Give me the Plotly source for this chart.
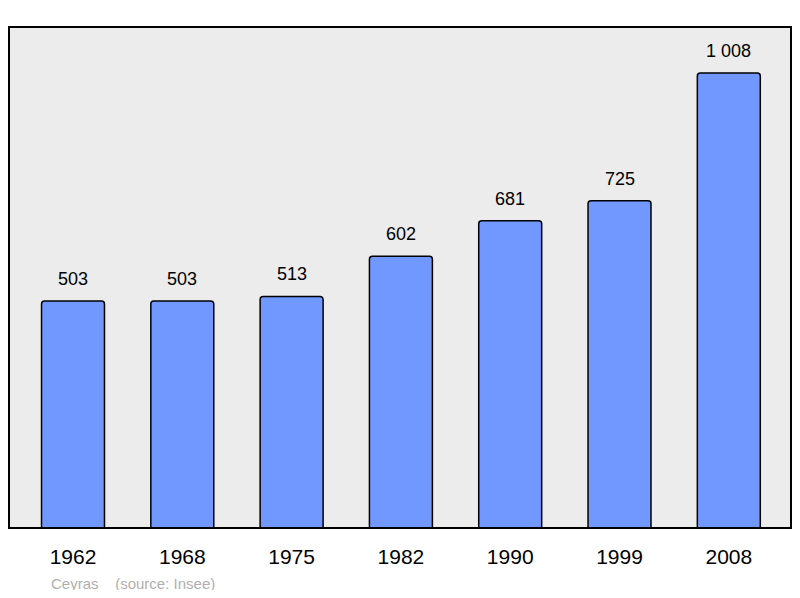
import plotly.graph_objects as go

years = ["1962", "1968", "1975", "1982", "1990", "1999", "2008"]
population = [503, 503, 513, 602, 681, 725, 1008]
labels = ["503", "503", "513", "602", "681", "725", "1 008"]
xpos = list(range(len(years)))

fig = go.Figure(go.Bar(
    x=xpos, y=population, width=0.576,
    marker=dict(color="#7098ff", line=dict(color="black", width=1.5), cornerradius=3),
))
annots = [dict(x=x, y=v, text=t, showarrow=False, yshift=22, yanchor="middle",
               font=dict(size=18, color="black"))
          for x, v, t in zip(xpos, population, labels)]
annots.append(dict(text="Ceyras    (source: Insee)", xref="paper", yref="paper",
                   x=(49-9)/782, y=-(583-528)/501, xanchor="left", yanchor="middle",
                   showarrow=False, font=dict(size=15, color="#b0b0b0")))
fig.update_layout(
    width=784, height=582,
    margin=dict(l=1, r=1, t=19, b=62),
    paper_bgcolor="white", plot_bgcolor="#ececec",
    showlegend=False,
    font=dict(family="Liberation Sans, Arial"),
    xaxis=dict(range=[-0.5856, 6.569], tickmode="array", tickvals=xpos, ticktext=years,
               tickfont=dict(size=21, color="black"), showgrid=False, zeroline=False,
               ticks="", ticklabelstandoff=14),
    yaxis=dict(range=[0, 1110], visible=False, showgrid=False),
    shapes=[dict(type="rect", xref="paper", yref="paper", x0=0, y0=0, x1=1, y1=1,
                 line=dict(color="black", width=2), layer="above")],
    annotations=annots,
)
fig.write_html("out.html")
